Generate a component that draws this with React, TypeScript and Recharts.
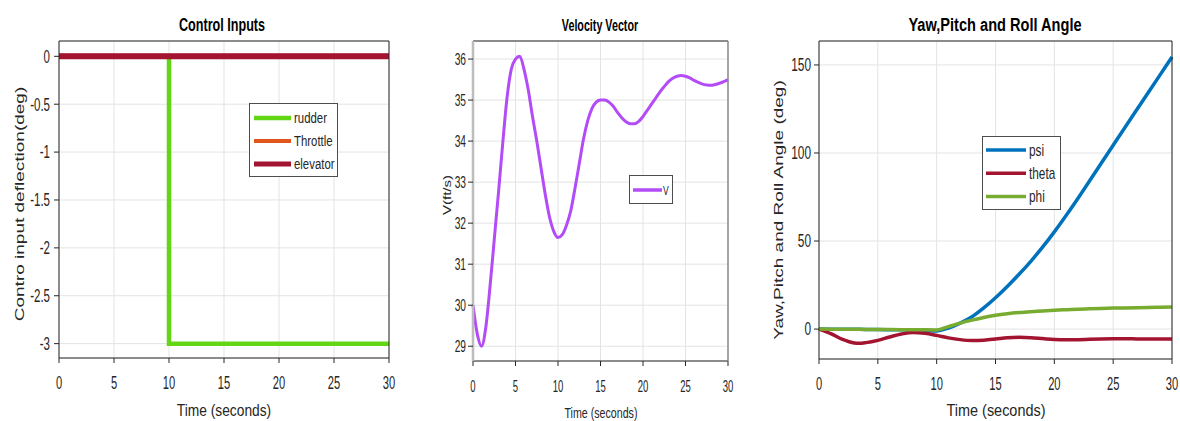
import React from 'react';
import { LineChart, Line, XAxis, YAxis, CartesianGrid, Legend } from 'recharts';

// ---------- data ----------
const timeTicks = [0, 5, 10, 15, 20, 25, 30];

const rudderTime = [0, 10, 10, 30];
const rudderDeflection = [0, 0, -3, -3];
const throttleTime = [0, 30];
const throttleDeflection = [0, 0];
const elevatorTime = [0, 30];
const elevatorDeflection = [0, 0];
const controlTicks = [-3, -2.5, -2, -1.5, -1, -0.5, 0];

const velocityTime = [
  0, 0.5, 1, 1.5, 2, 2.5, 3, 3.5, 4, 4.5, 5, 5.5, 6, 6.5, 7, 7.5, 8, 8.5, 9, 9.5,
  10, 10.5, 11, 11.5, 12, 12.5, 13, 13.5, 14, 14.5, 15, 15.5, 16, 16.5, 17, 17.5,
  18, 18.5, 19, 19.5, 20, 20.5, 21, 21.5, 22, 22.5, 23, 23.5, 24, 24.5, 25, 25.5,
  26, 26.5, 27, 27.5, 28, 28.5, 29, 29.5, 30,
];
const velocityV = [
  30.0, 29.3, 29.0, 29.45, 30.45, 31.6, 32.75, 33.95, 35.05, 35.75, 36.0, 36.07,
  35.75, 35.25, 34.6, 34.0, 33.35, 32.7, 32.15, 31.8, 31.65, 31.72, 31.95, 32.3,
  32.85, 33.45, 34.05, 34.5, 34.8, 34.95, 35.0, 35.0, 34.95, 34.85, 34.7, 34.57,
  34.47, 34.42, 34.42, 34.48, 34.6, 34.75, 34.9, 35.05, 35.2, 35.33, 35.45, 35.53,
  35.58, 35.6, 35.58, 35.54, 35.48, 35.43, 35.39, 35.37, 35.36, 35.38, 35.41,
  35.45, 35.5,
];
const velocityTicks = [29, 30, 31, 32, 33, 34, 35, 36];

const angleTime = [
  0, 1, 2, 3, 3.4, 4, 5, 6, 7, 8, 9, 10, 11, 12, 13, 14, 15, 16, 17, 18, 19, 20, 21,
  22, 23, 24, 25, 26, 27, 28, 29, 30,
];
const psi = [
  0, -0.05, -0.1, -0.15, -0.17, -0.2, -0.3, -0.35, -0.45, -0.6, -0.8, -1.1, 0.6, 3.4,
  7, 12, 17.8, 24.2, 31.1, 38.5, 46.5, 55.2, 64.5, 74.2, 84.2, 94.3, 104.4, 114.5,
  124.5, 134.5, 144.5, 154.5,
];
const theta = [
  0, -2.6, -5.9, -7.9, -8.1, -7.7, -6.4, -4.5, -2.8, -1.9, -2.4, -3.6, -5.0, -6.0,
  -6.5, -6.3, -5.7, -5.0, -4.7, -4.9, -5.4, -5.9, -6.1, -6.0, -5.8, -5.6, -5.5, -5.5,
  -5.6, -5.7, -5.7, -5.6,
];
const phi = [
  0, -0.05, -0.1, -0.15, -0.17, -0.2, -0.25, -0.3, -0.35, -0.4, -0.45, -0.5, 1.4,
  3.4, 5.1, 6.6, 7.8, 8.7, 9.4, 9.9, 10.3, 10.7, 11.0, 11.3, 11.5, 11.7, 11.9, 12.0,
  12.15, 12.3, 12.4, 12.5,
];
const angleTicks = [0, 50, 100, 150];

// ---------- helpers ----------
const toPoints = (ts: number[], vs: number[]) => ts.map((t, i) => ({ t, v: vs[i] }));

const rudderData = toPoints(rudderTime, rudderDeflection);
const throttleData = toPoints(throttleTime, throttleDeflection);
const elevatorData = toPoints(elevatorTime, elevatorDeflection);
const velocityData = toPoints(velocityTime, velocityV);
const angleData = angleTime.map((t, i) => ({ t, psi: psi[i], theta: theta[i], phi: phi[i] }));

const FONT = "'Liberation Sans', Arial, Helvetica, sans-serif";
const INK = '#262626';

const makeXTick = (fontSize: number, sx: number, dy: number) => (props: any) => {
  const { x, y, payload } = props;
  return (
    <text
      transform={`translate(${x},${y + dy}) scale(${sx},1)`}
      textAnchor="middle"
      fontSize={fontSize}
      fontFamily={FONT}
      fill={INK}
    >
      {payload.value}
    </text>
  );
};

const makeYTick = (fontSize: number, sx: number, dx: number) => (props: any) => {
  const { x, y, payload } = props;
  return (
    <text
      transform={`translate(${x + dx},${y + fontSize * 0.35}) scale(${sx},1)`}
      textAnchor="end"
      fontSize={fontSize}
      fontFamily={FONT}
      fill={INK}
    >
      {payload.value}
    </text>
  );
};

type TextProps = {
  x: number;
  y: number;
  text: string;
  size: number;
  sx: number;
  bold?: boolean;
  vertical?: boolean;
  color?: string;
};
const Txt = ({ x, y, text, size, sx, bold, vertical, color }: TextProps) => (
  <div
    style={{
      position: 'absolute',
      left: x,
      top: y,
      whiteSpace: 'nowrap',
      fontFamily: FONT,
      fontSize: size,
      fontWeight: bold ? 'bold' : 'normal',
      color: color || INK,
      lineHeight: 1,
      transform: `translate(-50%,-50%) scaleX(${sx})${vertical ? ' rotate(-90deg)' : ''}`,
      transformOrigin: 'center center',
    }}
  >
    {text}
  </div>
);

type LegendItem = { name: string; color: string; width: number };
const makeLegend =
  (
    items: LegendItem[],
    w: number,
    h: number,
    firstRow: number,
    rowGap: number,
    sampleX0: number,
    sampleX1: number,
    textX: number,
    fontSize: number,
    sx: number
  ) =>
  () => (
    <svg width={w} height={h} style={{ display: 'block' }}>
      <rect x={0.5} y={0.5} width={w - 1} height={h - 1} fill="#ffffff" stroke="#4d4d4d" strokeWidth={1} />
      {items.map((it, i) => {
        const cy = firstRow + i * rowGap;
        return (
          <g key={it.name}>
            <line x1={sampleX0} x2={sampleX1} y1={cy} y2={cy} stroke={it.color} strokeWidth={it.width} />
            <text
              transform={`translate(${textX},${cy + fontSize * 0.35}) scale(${sx},1)`}
              fontSize={fontSize}
              fontFamily={FONT}
              fill={INK}
            >
              {it.name}
            </text>
          </g>
        );
      })}
    </svg>
  );

const GRID = '#e3e3e3';

// ---------- series styles ----------
const RUDDER = '#62d615';
const THROTTLE = '#e0561b';
const ELEVATOR = '#a2142f';
const VCOLOR = '#b34cf7';
const PSI = '#0072bd';
const THETA = '#a2142f';
const PHI = '#77ac30';

const controlLegend: LegendItem[] = [
  { name: 'rudder', color: RUDDER, width: 4.5 },
  { name: 'Throttle', color: THROTTLE, width: 4 },
  { name: 'elevator', color: ELEVATOR, width: 5 },
];
const velocityLegend: LegendItem[] = [{ name: 'V', color: VCOLOR, width: 3.5 }];
const angleLegend: LegendItem[] = [
  { name: 'psi', color: PSI, width: 3.5 },
  { name: 'theta', color: THETA, width: 3.5 },
  { name: 'phi', color: PHI, width: 3.5 },
];

export default function App() {
  return (
    <div style={{ position: 'absolute', left: 0, top: 0, width: 1180, height: 421, background: '#ffffff', overflow: 'hidden' }}>
      {/* -------- Control Inputs -------- */}
      <div style={{ position: 'absolute', left: 0, top: 0 }}>
        <LineChart width={400} height={421} margin={{ top: 40, right: 10, left: 0, bottom: 0 }}>
          <CartesianGrid stroke={GRID} strokeWidth={1} />
          <XAxis
            dataKey="t"
            type="number"
            domain={[0, 30]}
            ticks={timeTicks}
            height={63}
            tickSize={5}
            axisLine={{ stroke: INK }}
            tickLine={{ stroke: INK }}
            tick={makeXTick(18, 0.62, 24)}
            allowDuplicatedCategory
          />
          <XAxis xAxisId="top" orientation="top" dataKey="t" type="number" domain={[0, 30]} ticks={timeTicks} height={1} tickSize={5} axisLine={{ stroke: INK }} tickLine={{ stroke: INK }} tick={false} />
          <YAxis
            type="number"
            domain={[-3.15, 0.16]}
            ticks={controlTicks}
            width={59}
            tickSize={5}
            allowDataOverflow
            axisLine={{ stroke: INK }}
            tickLine={{ stroke: INK }}
            tick={makeYTick(18, 0.64, -2)}
          />
          <YAxis yAxisId="right" orientation="right" type="number" domain={[-3.15, 0.16]} ticks={controlTicks} width={1} tickSize={5} allowDataOverflow axisLine={{ stroke: INK }} tickLine={{ stroke: INK }} tick={false} />
          <Line data={rudderData} dataKey="v" name="rudder" type="linear" stroke={RUDDER} strokeWidth={4.5} dot={false} isAnimationActive={false} />
          <Line data={throttleData} dataKey="v" name="Throttle" type="linear" stroke={THROTTLE} strokeWidth={5} dot={false} isAnimationActive={false} />
          <Line data={elevatorData} dataKey="v" name="elevator" type="linear" stroke={ELEVATOR} strokeWidth={6} dot={false} isAnimationActive={false} />
          <Legend
            layout="vertical"
            align="center"
            verticalAlign="middle"
            content={makeLegend(controlLegend, 89, 74, 15, 23, 5, 42, 45, 15, 0.76)}
            wrapperStyle={{ left: 249, top: 103, width: 89, height: 74 }}
          />
        </LineChart>
        <Txt x={222} y={25} text="Control Inputs" size={18} sx={0.7} bold color="#000" />
        <Txt x={224} y={410} text="Time (seconds)" size={17} sx={0.81} />
        <Txt x={19} y={204} text="Contro input deflection(deg)" size={19} sx={0.72} vertical />
      </div>

      {/* -------- Velocity Vector -------- */}
      <div style={{ position: 'absolute', left: 420, top: 0 }}>
        <LineChart width={320} height={421} margin={{ top: 40, right: 11, left: 0, bottom: 0 }}>
          <CartesianGrid stroke={GRID} strokeWidth={1} />
          <XAxis
            dataKey="t"
            type="number"
            domain={[0, 30]}
            ticks={timeTicks}
            height={60}
            tickSize={5}
            axisLine={{ stroke: INK }}
            tickLine={{ stroke: INK }}
            tick={makeXTick(17, 0.56, 24)}
          />
          <XAxis xAxisId="top" orientation="top" dataKey="t" type="number" domain={[0, 30]} ticks={timeTicks} height={1} tickSize={5} axisLine={{ stroke: INK }} tickLine={{ stroke: INK }} tick={false} />
          <YAxis
            type="number"
            domain={[28.64, 36.44]}
            ticks={velocityTicks}
            width={53}
            tickSize={5}
            allowDataOverflow
            axisLine={{ stroke: '#bdbdbd', strokeWidth: 2.5 }}
            tickLine={{ stroke: INK }}
            tick={makeYTick(17, 0.6, 0)}
          />
          <YAxis yAxisId="right" orientation="right" type="number" domain={[28.64, 36.44]} ticks={velocityTicks} width={1} tickSize={5} allowDataOverflow axisLine={{ stroke: '#8a8a8a', strokeWidth: 1.5 }} tickLine={{ stroke: INK }} tick={false} />
          <Line data={velocityData} dataKey="v" name="V" type="monotone" stroke={VCOLOR} strokeWidth={3} dot={false} isAnimationActive={false} />
          <Legend
            layout="vertical"
            align="center"
            verticalAlign="middle"
            content={makeLegend(velocityLegend, 44, 29, 15, 23, 4, 33, 34, 13, 0.66)}
            wrapperStyle={{ left: 209, top: 175, width: 44, height: 29 }}
          />
        </LineChart>
        <Txt x={180} y={26} text="Velocity Vector" size={16} sx={0.67} bold color="#000" />
        <Txt x={181} y={412} text="Time (seconds)" size={15} sx={0.71} />
        <Txt x={27} y={195} text="V(ft/s)" size={15} sx={0.72} vertical />
      </div>

      {/* -------- Yaw, Pitch and Roll -------- */}
      <div style={{ position: 'absolute', left: 750, top: 0 }}>
        <LineChart width={430} height={421} margin={{ top: 40, right: 7, left: 0, bottom: 0 }} data={angleData}>
          <CartesianGrid stroke={GRID} strokeWidth={1} />
          <XAxis
            dataKey="t"
            type="number"
            domain={[0, 30]}
            ticks={timeTicks}
            height={62}
            tickSize={5}
            axisLine={{ stroke: INK }}
            tickLine={{ stroke: INK }}
            tick={makeXTick(18, 0.62, 24)}
          />
          <XAxis xAxisId="top" orientation="top" dataKey="t" type="number" domain={[0, 30]} ticks={timeTicks} height={1} tickSize={5} axisLine={{ stroke: INK }} tickLine={{ stroke: INK }} tick={false} />
          <YAxis
            type="number"
            domain={[-17, 163.6]}
            ticks={angleTicks}
            width={69}
            tickSize={5}
            allowDataOverflow
            axisLine={{ stroke: INK }}
            tickLine={{ stroke: INK }}
            tick={makeYTick(18, 0.66, -1)}
          />
          <YAxis yAxisId="right" orientation="right" type="number" domain={[-17, 163.6]} ticks={angleTicks} width={1} tickSize={5} allowDataOverflow axisLine={{ stroke: INK }} tickLine={{ stroke: INK }} tick={false} />
          <Line dataKey="psi" name="psi" type="monotone" stroke={PSI} strokeWidth={3.5} dot={false} isAnimationActive={false} />
          <Line dataKey="theta" name="theta" type="monotone" stroke={THETA} strokeWidth={3.5} dot={false} isAnimationActive={false} />
          <Line dataKey="phi" name="phi" type="monotone" stroke={PHI} strokeWidth={3.5} dot={false} isAnimationActive={false} />
          <Legend
            layout="vertical"
            align="center"
            verticalAlign="middle"
            content={makeLegend(angleLegend, 79, 74, 14, 23.3, 4, 44, 47, 16, 0.74)}
            wrapperStyle={{ left: 232, top: 136, width: 79, height: 74 }}
          />
        </LineChart>
        <Txt x={245} y={25} text="Yaw,Pitch and Roll Angle" size={18} sx={0.81} bold color="#000" />
        <Txt x={246} y={410} text="Time (seconds)" size={17} sx={0.85} />
        <Txt x={28} y={210} text="Yaw,Pitch and Roll Angle (deg)" size={19} sx={0.72} vertical />
      </div>
    </div>
  );
}
